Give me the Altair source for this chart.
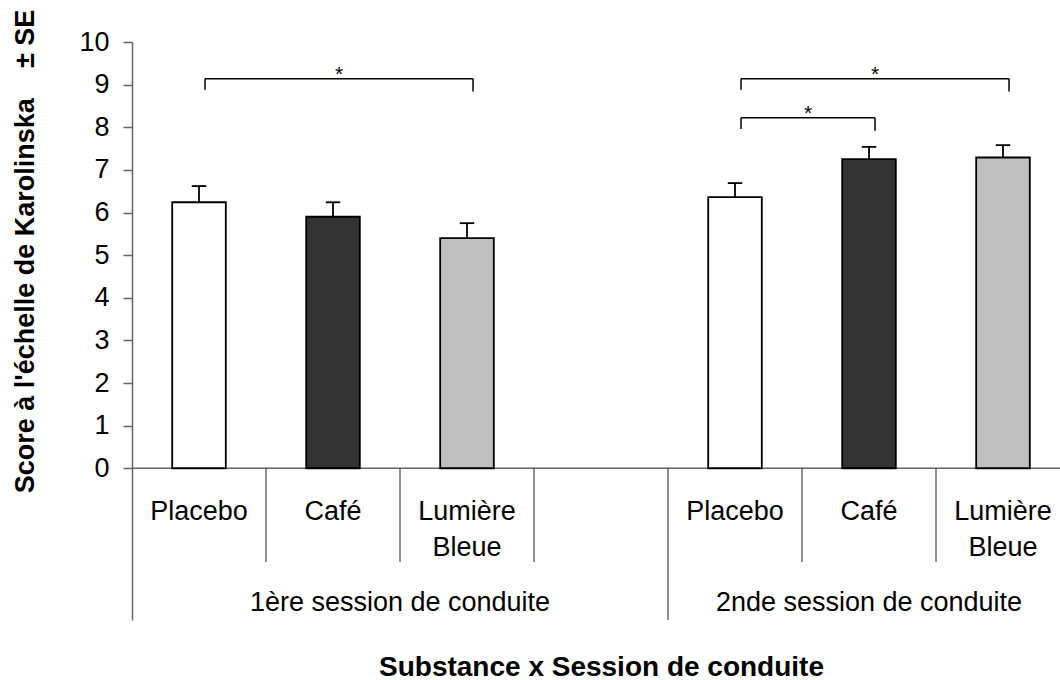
import altair as alt
import pandas as pd

# Karolinska sleepiness scores (mean and standard error) by substance and driving session
substances = ["Placebo", "Café", "Lumière Bleue"]
label_line1 = ["Placebo", "Café", "Lumière"]
label_line2 = ["", "", "Bleue"]
sessions = ["1ère session de conduite", "2nde session de conduite"]
means_s1 = [6.24, 5.90, 5.40]
means_s2 = [6.36, 7.25, 7.29]
se_s1 = [0.38, 0.34, 0.35]
se_s2 = [0.33, 0.29, 0.29]
fills = ["#ffffff", "#333333", "#c0c0c0"]

# Significant comparisons: session, first substance, second substance, bracket level
sig_session = [0, 1, 1]
sig_from = [0, 0, 0]
sig_to = [2, 1, 2]
sig_level = [9.14, 8.22, 9.14]

Y_TITLE = "Score à l'échelle de Karolinska\u00a0\u00a0\u00a0\u00a0±\u00a0SE"
X_TITLE = "Substance x Session de conduite"
FONT = "Liberation Sans"

# Layout: each substance occupies one slot; a blank slot separates the two sessions
SLOTS_PER_SESSION = 4
SLOT_PX = 134
PLOT_W = 928
PLOT_H = 578
X_MAX = PLOT_W / SLOT_PX
Y_MIN = -3.56
HALF_BAR = 0.2
HALF_CAP = 0.054
BRACKET_SHIFT = 0.045
LABEL_Y1, LABEL_Y2, SESSION_Y = -1.22, -2.05, -3.34
SHORT_DIV, LONG_DIV = -2.2, Y_MIN


def slot_center(session, k):
    return session * SLOTS_PER_SESSION + k + 0.5


rows = []
for s, (means, ses) in enumerate([(means_s1, se_s1), (means_s2, se_s2)]):
    for k, name in enumerate(substances):
        c = slot_center(s, k)
        rows.append({
            "substance": name,
            "session": sessions[s],
            "mean": means[k],
            "top": means[k] + ses[k],
            "xc": c,
            "x0": c - HALF_BAR,
            "x1": c + HALF_BAR,
            "cap0": c - HALF_CAP,
            "cap1": c + HALF_CAP,
            "line1": label_line1[k],
            "line2": label_line2[k],
            "ly1": LABEL_Y1,
            "ly2": LABEL_Y2,
        })
bars = pd.DataFrame(rows)

br_rows, tick_rows, star_rows = [], [], []
for s, a, b, lvl in zip(sig_session, sig_from, sig_to, sig_level):
    xa = slot_center(s, a) + BRACKET_SHIFT
    xb = slot_center(s, b) + BRACKET_SHIFT
    br_rows.append({"xa": xa, "xb": xb, "y": lvl})
    tick_rows.append({"x": xa, "y": lvl, "y2": lvl - 0.26})
    tick_rows.append({"x": xb, "y": lvl, "y2": lvl - 0.30})
    star_rows.append({"x": (xa + xb) / 2, "y": lvl, "t": "*"})
brackets = pd.DataFrame(br_rows)
bracket_ticks = pd.DataFrame(tick_rows)
stars = pd.DataFrame(star_rows)

dividers = pd.DataFrame({
    "x": [1, 2, 3, 4, 5, 6],
    "y": [0] * 6,
    "low": [SHORT_DIV, SHORT_DIV, SHORT_DIV, LONG_DIV, SHORT_DIV, SHORT_DIV],
})
session_labels = pd.DataFrame({
    "x": [SLOTS_PER_SESSION / 2, SLOTS_PER_SESSION + 1.5],
    "y": [SESSION_Y, SESSION_Y],
    "t": sessions,
})
baseline = pd.DataFrame({"a": [0], "b": [X_MAX], "y": [0]})

xscale = alt.Scale(domain=[0, X_MAX], nice=False, zero=False)
yscale = alt.Scale(domain=[Y_MIN, 10], nice=False, zero=False)
x_axis = alt.Axis(domain=False, ticks=False, labels=False, grid=False,
                  title=X_TITLE, titleFont=FONT, titleFontSize=28,
                  titleFontWeight="bold", titleColor="black",
                  titleX=469, titleY=55, titleAlign="center",
                  titleBaseline="alphabetic")
y_axis = alt.Axis(values=list(range(11)), grid=False, tickSize=9,
                  labelPadding=14, labelFont=FONT, labelFontSize=27,
                  labelColor="black", domainColor="#666666", tickColor="#666666",
                  domainWidth=1.5, tickWidth=1.5,
                  title=Y_TITLE, titleFont=FONT, titleFontSize=27,
                  titleFontWeight="bold", titleColor="black",
                  titleAngle=-90, titleX=-99, titleY=209, titleAlign="center",
                  titleBaseline="alphabetic")


def X(field):
    return alt.X(field, type="quantitative", scale=xscale, axis=x_axis)


def Y(field):
    return alt.Y(field, type="quantitative", scale=yscale, axis=y_axis)


base_rule = alt.Chart(baseline).mark_rule(color="#666666", strokeWidth=1.5).encode(
    x=X("a"), x2="b", y=Y("y"))

div_rules = alt.Chart(dividers).mark_rule(color="#222222", strokeWidth=1).encode(
    x=X("x"), y=Y("y"), y2="low")

bar_marks = alt.Chart(bars).mark_rect(stroke="black", strokeWidth=1.8).encode(
    x=X("x0"), x2="x1", y=Y("mean"), y2=alt.datum(0),
    color=alt.Color("substance:N", scale=alt.Scale(domain=substances, range=fills),
                    legend=None))

err_stem = alt.Chart(bars).mark_rule(color="black", strokeWidth=1.8).encode(
    x=X("xc"), y=Y("mean"), y2="top")

err_cap = alt.Chart(bars).mark_rule(color="black", strokeWidth=1.8).encode(
    x=X("cap0"), x2="cap1", y=Y("top"))

label1 = alt.Chart(bars).mark_text(font=FONT, fontSize=27, color="black",
                                   align="center", baseline="alphabetic").encode(
    x=X("xc"), y=Y("ly1"), text="line1:N")

label2 = alt.Chart(bars).mark_text(font=FONT, fontSize=27, color="black",
                                   align="center", baseline="alphabetic").encode(
    x=X("xc"), y=Y("ly2"), text="line2:N")

sess_text = alt.Chart(session_labels).mark_text(font=FONT, fontSize=27, color="black",
                                                align="center", baseline="alphabetic").encode(
    x=X("x"), y=Y("y"), text="t:N")

bracket_lines = alt.Chart(brackets).mark_rule(color="black", strokeWidth=1.5).encode(
    x=X("xa"), x2="xb", y=Y("y"))

bracket_tick_marks = alt.Chart(bracket_ticks).mark_rule(color="black", strokeWidth=1.5).encode(
    x=X("x"), y=Y("y"), y2="y2")

star_text = alt.Chart(stars).mark_text(font=FONT, fontSize=21, color="black",
                                       align="center", baseline="alphabetic", dy=2).encode(
    x=X("x"), y=Y("y"), text="t:N")

chart = alt.layer(
    base_rule, div_rules, bar_marks, err_stem, err_cap,
    label1, label2, sess_text, bracket_lines, bracket_tick_marks, star_text,
).properties(
    width=PLOT_W, height=PLOT_H,
    autosize="none",
    padding={"left": 132, "top": 42, "right": 0, "bottom": 60},
    background="white",
).configure_view(stroke=None)

chart.save("out.html", embed_options={"renderer": "svg", "actions": False})
